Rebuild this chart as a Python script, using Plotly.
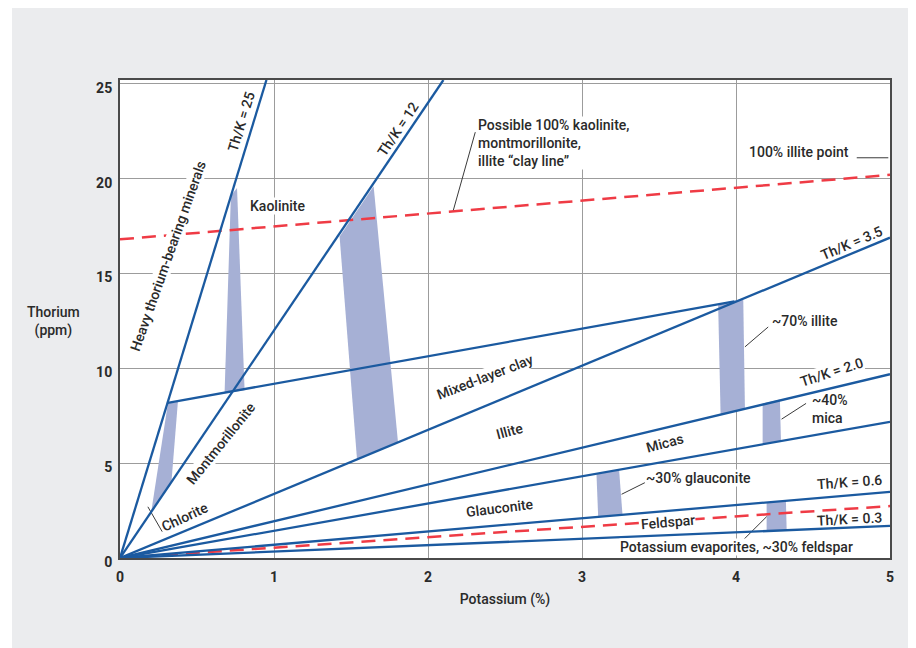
import plotly.graph_objects as go

# ---------------- data ----------------
# Rays from the origin, given by their end point (K %, Th ppm)
ray_names = ["Th/K = 25", "Th/K = 12", "Th/K = 3.5", "Th/K = 2.0", "Micas (lower)", "Th/K = 0.6", "Th/K = 0.3"]
ray_end_k = [0.951, 2.10, 5.0, 5.0, 5.0, 5.0, 5.0]
ray_end_th = [25.2, 25.2, 16.89, 9.69, 7.18, 3.49, 1.69]

# Mixed-layer clay boundary
mixed_layer_k = [0.31, 3.99]
mixed_layer_th = [8.18, 13.53]

# Red dashed lines
clay_line_k = [0.0, 5.0]
clay_line_th = [16.8, 20.2]
feldspar_line_k = [0.0, 5.0]
feldspar_line_th = [0.0, 2.74]

# Shaded mineral bands (polygon corners)
band_names = ["Kaolinite", "Kaolinite-illite", "Chlorite", "~70% illite", "~40% mica", "~30% glauconite", "Feldspar"]
band_k = [
    [0.72, 0.76, 0.809, 0.679],
    [1.426, 1.647, 1.805, 1.539],
    [0.311, 0.376, 0.333, 0.203],
    [3.884, 4.047, 4.058, 3.90],
    [4.173, 4.285, 4.292, 4.173],
    [3.094, 3.241, 3.263, 3.105],
    [4.199, 4.324, 4.329, 4.199],
]
band_th = [
    [19.1, 19.5, 8.85, 8.68],
    [16.95, 19.6, 6.11, 5.21],
    [8.15, 8.24, 3.9, 2.44],
    [13.39, 13.67, 7.86, 7.56],
    [8.15, 8.35, 6.16, 5.99],
    [4.42, 4.62, 2.28, 2.17],
    [2.93, 3.02, 1.46, 1.42],
]

# Leader lines from labels
leader_k = [[2.307, 2.163], [4.784, 4.989], [4.209, 4.058], [4.455, 4.296],
            [3.408, 3.257], [0.181, 0.274], [4.047, 4.199]]
leader_th = [[22.45, 18.29], [21.1, 21.1], [12.18, 11.13], [8.15, 7.32],
             [3.97, 3.36], [2.70, 1.39], [0.95, 2.18]]

x_ticks = [0, 1, 2, 3, 4, 5]
y_ticks = [0, 5, 10, 15, 20, 25]

# Text labels: text, K, Th, angle, xanchor, knockout background
labels = [
    ("Th/K = 25", 0.787, 22.98, -73, "center", False),
    ("Th/K = 12", 1.805, 22.63, -56, "center", False),
    ("Heavy thorium-bearing minerals", 0.312, 15.91, -70.5, "center", True),
    ("Kaolinite", 1.021, 18.54, 0, "center", True),
    ("Possible 100% kaolinite,<br>montmorillonite,<br>illite \u201cclay line\u201d", 2.321, 21.88, 0, "left", True),
    ("100% illite point", 4.74, 21.4, 0, "right", True),
    ("Th/K = 3.5", 4.751, 16.61, -23, "center", False),
    ("~70% illite", 4.227, 12.5, 0, "left", True),
    ("Th/K = 2.0", 4.621, 9.81, -18, "center", True),
    ("~40%<br>mica", 4.485, 7.86, 0, "left", False),
    ("Mixed-layer clay", 2.368, 9.55, -21, "center", True),
    ("Illite", 2.531, 6.71, -15, "center", False),
    ("Micas", 3.538, 6.04, -15, "center", False),
    ("Montmorillonite", 0.658, 6.04, -51, "center", True),
    ("Chlorite", 0.419, 2.18, -25, "center", False),
    ("Glauconite", 2.466, 2.62, -7, "center", False),
    ("~30% glauconite", 3.754, 4.2, 0, "center", True),
    ("Feldspar", 3.56, 1.91, -5, "center", True),
    ("Th/K = 0.6", 4.74, 4.02, -4, "center", False),
    ("Th/K = 0.3", 4.74, 2.04, -3, "center", False),
    ("Potassium evaporites, ~30% feldspar", 4.004, 0.56, 0, "center", True),
]

# ---------------- styles ----------------
BLUE = "#1b5aa0"
RED = "#ef3b45"
BAND = "#a6b0d5"
TEXT = "#2a2a2a"
FONT = "Roboto, Liberation Sans, Arial, sans-serif"
FSIZE = 14
FWEIGHT = 500

fig = go.Figure()

for name, bk, bt in zip(band_names, band_k, band_th):
    fig.add_trace(go.Scatter(
        x=bk + [bk[0]], y=bt + [bt[0]], mode="lines", fill="toself",
        fillcolor=BAND, line=dict(color="rgba(0,0,0,0)", width=0),
        name=name, hoverinfo="skip"))

for lk, lt in zip(leader_k, leader_th):
    fig.add_trace(go.Scatter(x=lk, y=lt, mode="lines",
                             line=dict(color="#3a3a3a", width=1), hoverinfo="skip"))

fig.add_trace(go.Scatter(x=clay_line_k, y=clay_line_th, mode="lines",
                         line=dict(color=RED, width=2.5, dash="14px,8px"), name="clay line"))
fig.add_trace(go.Scatter(x=feldspar_line_k, y=feldspar_line_th, mode="lines",
                         line=dict(color=RED, width=2.5, dash="14px,8px"), name="feldspar"))

for name, ek, et in zip(ray_names, ray_end_k, ray_end_th):
    fig.add_trace(go.Scatter(x=[0, ek], y=[0, et], mode="lines",
                             line=dict(color=BLUE, width=2.3), name=name))

fig.add_trace(go.Scatter(x=mixed_layer_k, y=mixed_layer_th, mode="lines",
                         line=dict(color=BLUE, width=2.3), name="Mixed-layer clay"))

for text, k, th, ang, xa, knock in labels:
    fig.add_annotation(
        x=k, y=th, text=text, showarrow=False, textangle=ang,
        xanchor=xa, yanchor="middle", align="left",
        font=dict(family=FONT, size=FSIZE, color=TEXT, weight=FWEIGHT),
        bgcolor="white" if knock else None, borderpad=0)

fig.add_annotation(
    xref="paper", yref="paper", x=-0.087, y=0.494, text="Thorium<br>(ppm)",
    showarrow=False, xanchor="center", yanchor="middle",
    font=dict(family=FONT, size=FSIZE, color=TEXT, weight=FWEIGHT))

# white strip at the left edge of the page
fig.add_shape(type="rect", xref="paper", yref="paper", x0=-0.2, x1=-0.1403, y0=-0.3, y1=1.3,
              fillcolor="white", line=dict(width=0), layer="above")

axis_common = dict(
    showgrid=True, gridcolor="#9c9c9c", gridwidth=1,
    showline=True, mirror=True, linecolor="#4a4a4a", linewidth=2,
    zeroline=False, ticks="",
    tickfont=dict(family=FONT, size=FSIZE, color=TEXT, weight=700),
)

fig.update_layout(
    width=916, height=648,
    margin=dict(l=112, r=34, t=72, b=98),
    paper_bgcolor="#ebecee", plot_bgcolor="white",
    showlegend=False,
    xaxis=dict(range=[0, 5], tickvals=x_ticks, ticklabelstandoff=5,
               title=dict(text="Potassium (%)",
                          font=dict(family=FONT, size=FSIZE, color=TEXT, weight=FWEIGHT), standoff=10),
               **axis_common),
    yaxis=dict(range=[0, 25.2], tickvals=y_ticks, ticklabelstandoff=3, ticklabelshift=4,
               **axis_common),
)

fig.write_html("out.html")
